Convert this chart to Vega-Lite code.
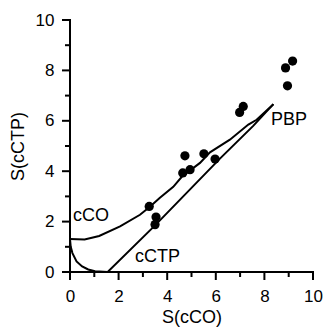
{
  "$schema": "https://vega.github.io/schema/vega-lite/v6.json",
  "width": 243,
  "height": 252,
  "autosize": {"type": "none"},
  "padding": {"left": 70, "top": 20, "right": 10, "bottom": 64},
  "background": "white",
  "config": {
    "view": {"stroke": null},
    "axis": {
      "grid": false,
      "ticks": false,
      "domain": false,
      "tickSize": 0,
      "labelFont": "Liberation Sans",
      "labelFontSize": 17,
      "labelColor": "black",
      "labelOverlap": false,
      "labelFlush": false,
      "titleFont": "Liberation Sans",
      "titleFontSize": 18,
      "titleFontWeight": "normal",
      "titleColor": "black"
    }
  },
  "datasets": {
    "curves": [
      {"curve": "cCO", "x": 0, "y": 1.31},
      {"curve": "cCO", "x": 0.6, "y": 1.29},
      {"curve": "cCO", "x": 1.2, "y": 1.43},
      {"curve": "cCO", "x": 2.06, "y": 1.81},
      {"curve": "cCO", "x": 2.88, "y": 2.27},
      {"curve": "cCO", "x": 3.3, "y": 2.6},
      {"curve": "cCO", "x": 3.7, "y": 2.95},
      {"curve": "cCO", "x": 4.25, "y": 3.38},
      {"curve": "cCO", "x": 4.6, "y": 3.78},
      {"curve": "cCO", "x": 5.35, "y": 4.33},
      {"curve": "cCO", "x": 5.76, "y": 4.75},
      {"curve": "cCO", "x": 6.58, "y": 5.25},
      {"curve": "cCO", "x": 7.34, "y": 5.85},
      {"curve": "cCO", "x": 7.68, "y": 6.04},
      {"curve": "cCO", "x": 8.37, "y": 6.66},
      {"curve": "cCTP", "x": 0, "y": 1.31},
      {"curve": "cCTP", "x": 0.03, "y": 1.0},
      {"curve": "cCTP", "x": 0.1, "y": 0.75},
      {"curve": "cCTP", "x": 0.27, "y": 0.42},
      {"curve": "cCTP", "x": 0.5, "y": 0.22},
      {"curve": "cCTP", "x": 0.75, "y": 0.1},
      {"curve": "cCTP", "x": 1.03, "y": 0.03},
      {"curve": "cCTP", "x": 1.55, "y": 0},
      {"curve": "cCTP", "x": 3.5, "y": 1.85},
      {"curve": "cCTP", "x": 6.17, "y": 4.5},
      {"curve": "cCTP", "x": 7.54, "y": 5.8},
      {"curve": "cCTP", "x": 8.37, "y": 6.66}
    ],
    "points": [
      {"x": 3.26, "y": 2.6},
      {"x": 3.54, "y": 2.18},
      {"x": 3.5, "y": 1.88},
      {"x": 4.64, "y": 3.93},
      {"x": 4.94, "y": 4.06},
      {"x": 4.73, "y": 4.61},
      {"x": 5.51, "y": 4.69},
      {"x": 5.97, "y": 4.48},
      {"x": 6.98, "y": 6.33},
      {"x": 7.13, "y": 6.57},
      {"x": 8.87, "y": 8.1},
      {"x": 9.16, "y": 8.37},
      {"x": 8.95, "y": 7.39}
    ],
    "labels": [
      {"x": 0.12, "y": 2.02, "label": "cCO"},
      {"x": 2.67, "y": 0.4, "label": "cCTP"},
      {"x": 8.27, "y": 5.82, "label": "PBP"}
    ],
    "frame": [
      {"x": 0, "y": 10, "o": 0},
      {"x": 0, "y": 0, "o": 1},
      {"x": 10, "y": 0, "o": 2}
    ],
    "majorTicks": [{"v": 0}, {"v": 2}, {"v": 4}, {"v": 6}, {"v": 8}, {"v": 10}],
    "minorTicks": [{"v": 1}, {"v": 3}, {"v": 5}, {"v": 7}, {"v": 9}]
  },
  "layer": [
    {
      "data": {"name": "curves"},
      "mark": {"type": "line", "color": "black", "strokeWidth": 2},
      "encoding": {
        "x": {
          "field": "x", "type": "quantitative",
          "scale": {"domain": [0, 10], "nice": false},
          "axis": {
            "title": "S(cCO)",
            "values": [0, 2, 4, 6, 8, 10],
            "labelPadding": 16,
            "titlePadding": 4
          }
        },
        "y": {
          "field": "y", "type": "quantitative",
          "scale": {"domain": [0, 10], "nice": false},
          "axis": {
            "title": "S(cCTP)",
            "values": [0, 2, 4, 6, 8, 10],
            "labelPadding": 16,
            "titlePadding": 8
          }
        },
        "detail": {"field": "curve"}
      }
    },
    {
      "data": {"name": "frame"},
      "mark": {"type": "line", "color": "black", "strokeWidth": 2, "strokeCap": "square"},
      "encoding": {
        "x": {"field": "x", "type": "quantitative"},
        "y": {"field": "y", "type": "quantitative"},
        "order": {"field": "o"}
      }
    },
    {
      "data": {"name": "majorTicks"},
      "mark": {"type": "tick", "orient": "vertical", "color": "black", "size": 8, "thickness": 2, "yOffset": 4, "opacity": 1},
      "encoding": {
        "x": {"field": "v", "type": "quantitative"},
        "y": {"datum": 0, "type": "quantitative"}
      }
    },
    {
      "data": {"name": "minorTicks"},
      "mark": {"type": "tick", "orient": "vertical", "color": "black", "size": 5, "thickness": 2, "yOffset": 2.5, "opacity": 1},
      "encoding": {
        "x": {"field": "v", "type": "quantitative"},
        "y": {"datum": 0, "type": "quantitative"}
      }
    },
    {
      "data": {"name": "majorTicks"},
      "mark": {"type": "tick", "orient": "horizontal", "color": "black", "size": 8, "thickness": 2, "xOffset": -4, "opacity": 1},
      "encoding": {
        "y": {"field": "v", "type": "quantitative"},
        "x": {"datum": 0, "type": "quantitative"}
      }
    },
    {
      "data": {"name": "minorTicks"},
      "mark": {"type": "tick", "orient": "horizontal", "color": "black", "size": 5, "thickness": 2, "xOffset": -2.5, "opacity": 1},
      "encoding": {
        "y": {"field": "v", "type": "quantitative"},
        "x": {"datum": 0, "type": "quantitative"}
      }
    },
    {
      "data": {"name": "points"},
      "mark": {"type": "circle", "color": "black", "size": 85, "opacity": 1},
      "encoding": {
        "x": {"field": "x", "type": "quantitative"},
        "y": {"field": "y", "type": "quantitative"}
      }
    },
    {
      "data": {"name": "labels"},
      "mark": {"type": "text", "align": "left", "baseline": "alphabetic", "font": "Liberation Sans", "fontSize": 18, "color": "black"},
      "encoding": {
        "x": {"field": "x", "type": "quantitative"},
        "y": {"field": "y", "type": "quantitative"},
        "text": {"field": "label"}
      }
    }
  ]
}
